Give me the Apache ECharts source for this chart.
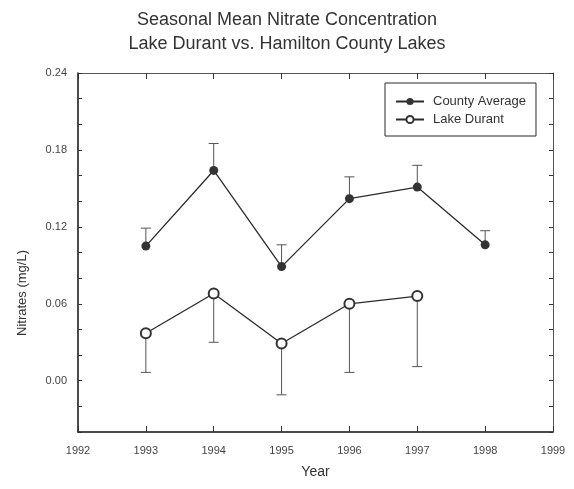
<!DOCTYPE html>
<html>
<head>
<meta charset="utf-8">
<script src="https://cdn.jsdelivr.net/npm/echarts@6/dist/echarts.min.js"></script>
<style>
  html, body { margin: 0; padding: 0; background: #fff; }
  #chart { width: 574px; height: 489px; }
</style>
</head>
<body>
<div id="chart"></div>
<script>
// years and seasonal means
var countyYears = [1993, 1994, 1995, 1996, 1997, 1998];
var countyMean = [0.105, 0.164, 0.089, 0.142, 0.151, 0.106];
var countyHigh = [0.119, 0.185, 0.106, 0.159, 0.168, 0.117]; // top of error bar

var lakeYears = [1993, 1994, 1995, 1996, 1997];
var lakeMean = [0.037, 0.068, 0.029, 0.060, 0.066];
var lakeLow = [0.0065, 0.030, -0.011, 0.0065, 0.011]; // bottom of error bar

var yLabelValues = [0.00, 0.06, 0.12, 0.18, 0.24];

var ink = '#2b2b2b';

function pairs(xs, ys) {
  return xs.map(function (x, i) { return [x, ys[i]]; });
}
function bars(xs, ys, ends) {
  return xs.map(function (x, i) { return [x, ys[i], ends[i]]; });
}

// vertical error bar with a small cap at the far end
function renderErr(params, api) {
  var p0 = api.coord([api.value(0), api.value(1)]);
  var p1 = api.coord([api.value(0), api.value(2)]);
  var cap = 5;
  var style = { stroke: '#555', lineWidth: 1 };
  return {
    type: 'group',
    children: [
      { type: 'line', shape: { x1: p0[0], y1: p0[1], x2: p1[0], y2: p1[1] }, style: style },
      { type: 'line', shape: { x1: p1[0] - cap, y1: p1[1], x2: p1[0] + cap, y2: p1[1] }, style: style }
    ]
  };
}

var chart = echarts.init(document.getElementById('chart'));

var labelStyle = { fontFamily: 'Liberation Sans', fontSize: 11, color: '#444' };

chart.setOption({
  backgroundColor: '#fff',
  animation: false,
  title: {
    text: 'Seasonal Mean Nitrate Concentration\nLake Durant vs. Hamilton County Lakes',
    left: 'center',
    top: 3,
    textStyle: {
      fontFamily: 'Liberation Sans',
      fontSize: 18,
      fontWeight: 'normal',
      color: '#333',
      lineHeight: 24
    }
  },
  legend: {
    orient: 'vertical',
    left: 385,
    top: 83,
    padding: [12, 10, 10, 10],
    borderColor: ink,
    borderWidth: 1,
    itemWidth: 28,
    itemHeight: 9,
    itemGap: 5,
    textStyle: { fontFamily: 'Liberation Sans', fontSize: 13, color: '#333', padding: [0, 0, 0, 4] },
    data: ['County Average', 'Lake Durant']
  },
  grid: { left: 78, right: 21, top: 73, bottom: 57 },
  xAxis: [
    {
      type: 'value',
      position: 'bottom',
      min: 1992, max: 1999, interval: 1,
      name: 'Year',
      nameLocation: 'middle',
      nameGap: 33,
      nameTextStyle: { fontFamily: 'Liberation Sans', fontSize: 14, color: '#333' },
      axisLine: { onZero: false, lineStyle: { color: '#111', width: 1.5 } },
      axisTick: { inside: true, length: 6, lineStyle: { color: '#333' } },
      axisLabel: Object.assign({ margin: 13, formatter: function (v) { return String(v); } }, labelStyle),
      splitLine: { show: false }
    },
    {
      type: 'value',
      position: 'top',
      min: 1992, max: 1999, interval: 1,
      axisLine: { onZero: false, lineStyle: { color: '#555', width: 1 } },
      axisTick: { inside: true, length: 6, lineStyle: { color: '#333' } },
      axisLabel: { show: false },
      splitLine: { show: false }
    }
  ],
  yAxis: [
    {
      type: 'value',
      position: 'left',
      min: -0.04, max: 0.24, interval: 0.02,
      axisLine: { onZero: false, lineStyle: { color: '#111', width: 1.5 } },
      axisTick: { inside: true, length: 4, lineStyle: { color: '#333' } },
      axisLabel: Object.assign({
        margin: 11,
        formatter: function (v) {
          for (var i = 0; i < yLabelValues.length; i++) {
            if (Math.abs(yLabelValues[i] - v) < 1e-6) return yLabelValues[i].toFixed(2);
          }
          return '';
        }
      }, labelStyle),
      splitLine: { show: false }
    },
    {
      type: 'value',
      position: 'right',
      min: -0.04, max: 0.24, interval: 0.02,
      axisLine: { onZero: false, lineStyle: { color: '#555', width: 1 } },
      axisTick: { inside: true, length: 4, lineStyle: { color: '#333' } },
      axisLabel: { show: false },
      splitLine: { show: false }
    }
  ],
  graphic: [
    {
      type: 'text',
      x: 22,
      y: 293,
      rotation: Math.PI / 2,
      style: {
        text: 'Nitrates (mg/L)',
        fontFamily: 'Liberation Sans',
        fontSize: 13,
        fill: '#333',
        align: 'center',
        verticalAlign: 'middle'
      }
    }
  ],
  series: [
    {
      type: 'custom',
      name: 'countyErr',
      renderItem: renderErr,
      encode: { x: 0, y: [1, 2] },
      data: bars(countyYears, countyMean, countyHigh),
      z: 1,
      silent: true
    },
    {
      type: 'custom',
      name: 'lakeErr',
      renderItem: renderErr,
      encode: { x: 0, y: [1, 2] },
      data: bars(lakeYears, lakeMean, lakeLow),
      z: 1,
      silent: true
    },
    {
      name: 'County Average',
      type: 'line',
      data: pairs(countyYears, countyMean),
      symbol: 'circle',
      symbolSize: 9,
      itemStyle: { color: '#333' },
      lineStyle: { color: ink, width: 1.3 },
      z: 3
    },
    {
      name: 'Lake Durant',
      type: 'line',
      data: pairs(lakeYears, lakeMean),
      symbol: 'emptyCircle',
      symbolSize: 10,
      itemStyle: { color: '#333', borderWidth: 1.2 },
      lineStyle: { color: ink, width: 1.3 },
      z: 3
    }
  ]
});
</script>
</body>
</html>
